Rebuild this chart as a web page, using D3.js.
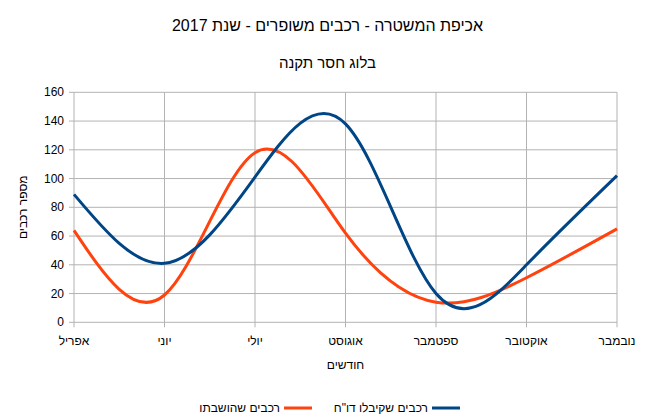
<!DOCTYPE html>
<html>
<head>
<meta charset="utf-8">
<script src="https://cdn.jsdelivr.net/npm/d3@7"></script>
<style>
  body { margin: 0; background: #fff; }
  svg text { font-family: "Liberation Sans", "DejaVu Sans", sans-serif; fill: #000; }
</style>
</head>
<body>
<div id="chart"></div>
<script>
// data
const months = ["אפריל", "יוני", "יולי", "אוגוסט", "ספטמבר", "אוקטובר", "נובמבר"];
const reported = [89, 41, 101, 138, 20, 40, 102];   // רכבים שקיבלו דו"ח
const disabled = [64, 19, 118, 62, 14, 31, 65];     // רכבים שהושבתו
const yTicks = [0, 20, 40, 60, 80, 100, 120, 140, 160];

const width = 655, height = 420;
const plotLeft = 74, plotRight = 617, plotTop = 92.3, plotBottom = 322.3;

const svg = d3.select("#chart").append("svg")
  .attr("width", width).attr("height", height);

const x = d3.scalePoint().domain(months).range([plotLeft, plotRight]);
const y = d3.scaleLinear().domain([0, 160]).range([plotBottom, plotTop]);

// grid
svg.append("g").selectAll("line").data(yTicks).join("line")
  .attr("x1", plotLeft - 5).attr("x2", plotRight)
  .attr("y1", d => y(d)).attr("y2", d => y(d))
  .attr("stroke", "#b3b3b3").attr("stroke-width", 1);

svg.append("g").selectAll("line").data(months).join("line")
  .attr("x1", d => x(d)).attr("x2", d => x(d))
  .attr("y1", plotTop).attr("y2", plotBottom + 5)
  .attr("stroke", "#b3b3b3").attr("stroke-width", 1);

// tick labels
svg.append("g").selectAll("text").data(yTicks).join("text")
  .attr("x", 64).attr("y", d => y(d) + 4)
  .attr("text-anchor", "end").attr("font-size", 12)
  .text(d => d);

svg.append("g").selectAll("text").data(months).join("text")
  .attr("x", d => x(d)).attr("y", 345)
  .attr("text-anchor", "middle").attr("font-size", 12)
  .text(d => d);

// lines
const line = d3.line()
  .x((d, i) => x(months[i]))
  .y(d => y(d))
  .curve(d3.curveNatural);

svg.append("path").datum(disabled)
  .attr("d", line).attr("fill", "none")
  .attr("stroke", "#ff420e").attr("stroke-width", 3);

svg.append("path").datum(reported)
  .attr("d", line).attr("fill", "none")
  .attr("stroke", "#004586").attr("stroke-width", 3);

// titles
svg.append("text").attr("x", 327.5).attr("y", 31)
  .attr("text-anchor", "middle").attr("font-size", 16)
  .text("אכיפת המשטרה - רכבים משופרים - שנת 2017");

svg.append("text").attr("x", 327.5).attr("y", 68)
  .attr("text-anchor", "middle").attr("font-size", 15)
  .text("בלוג חסר תקנה");

svg.append("text").attr("x", 345.5).attr("y", 369)
  .attr("text-anchor", "middle").attr("font-size", 12)
  .text("חודשים");

svg.append("text")
  .attr("transform", "translate(27," + ((plotTop + plotBottom) / 2) + ") rotate(-90)")
  .attr("text-anchor", "middle").attr("font-size", 12)
  .text("מספר רכבים");

// legend
const legend = [
  { name: "רכבים שקיבלו דו\"ח", color: "#004586", x: 460 },
  { name: "רכבים שהושבתו", color: "#ff420e", x: 312 }
];
const lg = svg.append("g").selectAll("g").data(legend).join("g");
lg.append("line")
  .attr("x1", d => d.x - 28).attr("x2", d => d.x)
  .attr("y1", 408).attr("y2", 408)
  .attr("stroke", d => d.color).attr("stroke-width", 3);
lg.append("text")
  .attr("x", d => d.x - 32).attr("y", 412)
  .attr("text-anchor", "end").attr("font-size", 12)
  .text(d => d.name);
</script>
</body>
</html>
